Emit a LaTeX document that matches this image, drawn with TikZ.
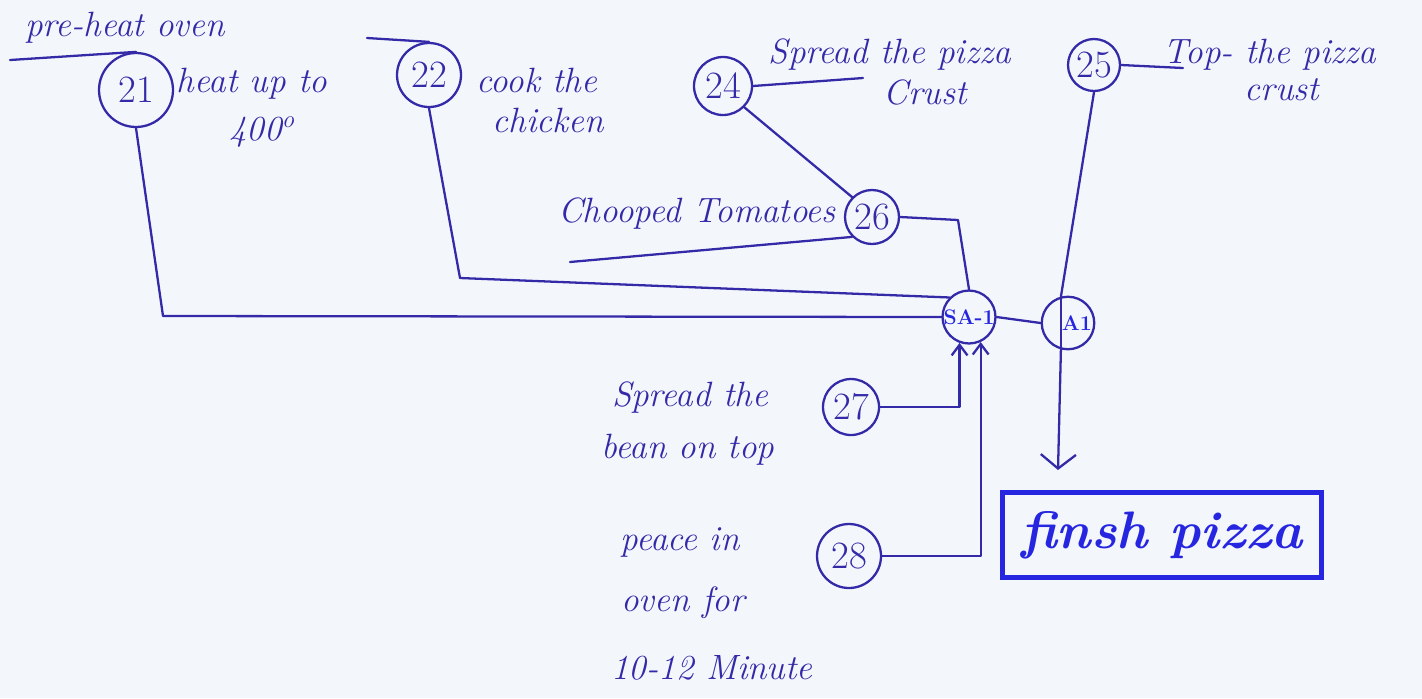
\documentclass[tikz,border=0pt]{standalone}
\usepackage{fontspec}
\usetikzlibrary{arrows.meta}
\definecolor{pen}{RGB}{52,42,168}
\definecolor{marker}{RGB}{38,38,225}
\definecolor{paper}{RGB}{243,247,252}
\begin{document}
\begin{tikzpicture}[x=0.02cm,y=-0.02cm,
  pen/.style={draw=pen, line width=1.3pt, line cap=round, line join=round},
  num/.style={circle, draw=pen, line width=1.3pt, inner sep=0pt, text=pen,
    font=\fontsize{22}{26}\selectfont},
  mk/.style={num, text=marker, font=\fontsize{12}{14}\selectfont\bfseries},
  lbl/.style={text=pen, font=\fontsize{20}{24}\selectfont\itshape, inner sep=1pt},
  arr/.style={pen, -{Straight Barb[length=6pt,width=9pt]}},
  bigarr/.style={pen, -{Straight Barb[length=8pt,width=20pt]}}]
\fill[paper] (0,0) rectangle (1422,698);
\useasboundingbox (0,0) rectangle (1422,698);

% numbered step circles
\node[num, minimum size=1.48cm] (n21) at (136,90) {21};
\node[num, minimum size=1.28cm] (n22) at (429,75) {22};
\node[num, minimum size=1.16cm] (n24) at (723,86) {24};
\node[num, minimum size=1.04cm] (n25) at (1094,65) {25};
\node[num, minimum size=1.08cm] (n26) at (872,217) {26};
\node[mk,  minimum size=0.98cm] (sa) at (969,317) {SA-1};
\node[mk,  minimum size=1.05cm] (a1) at (1068,323) {\hspace*{10pt}A1};
\node[num, minimum size=1.12cm] (n27) at (851,407) {27};
\node[num, minimum size=1.28cm] (n28) at (849,556) {28};

% final box
\node[draw=marker, line width=2.8pt, minimum width=6.38cm, minimum height=1.7cm,
  text=marker, font=\fontsize{30}{36}\selectfont\bfseries\itshape] (fin) at (1162,535) {finsh pizza};

% labels
\node[lbl] (t21a) at (125,28) {pre-heat oven};
\node[lbl] (t21b) at (252,84) {heat up to};
\node[lbl] (t21c) at (262,132) {400\textsuperscript{o}};
\node[lbl] (t22a) at (537,80) {cook the};
\node[lbl] (t22b) at (548,120) {chicken};
\node[lbl] (t24a) at (890,55) {Spread the pizza};
\node[lbl] (t24b) at (925,92) {Crust};
\node[lbl] (t25a) at (1270,55) {Top- the pizza};
\node[lbl] (t25b) at (1282,90) {crust};
\node[lbl] (t26) at (697,214) {Chooped Tomatoes};
\node[lbl] (t27a) at (690,398) {Spread the};
\node[lbl] (t27b) at (688,450) {bean on top};
\node[lbl] (t28a) at (680,542) {peace in};
\node[lbl] (t28b) at (683,603) {oven for};
\node[lbl] (t28c) at (712,668) {10-12 Minute};

% stub lines / underlines
\coordinate (u21) at (10,60);
\coordinate (u22) at (367,38);
\coordinate (u24) at (863,78);
\coordinate (u25) at (1183,68);
\coordinate (u26) at (570,262);
\draw[pen] (u21) -- (n21.north);
\draw[pen] (u22) -- (n22.north);
\draw[pen] (n24.east) -- (u24);
\draw[pen] (n25.east) -- (u25);
\draw[pen] (u26) -- (n26.225);

% connectors
\coordinate (b21) at (163,316);
\coordinate (b22) at (460,278);
\coordinate (b26) at (958,220);
\coordinate (tip) at (1058,470);
\draw[pen] (n21.south) -- (b21) -- (sa.west);
\draw[pen] (n22.south) -- (b22) -- (sa.north west);
\draw[pen] (n24.south east) -- (n26.north west);
\draw[pen] (n26.east) -- (b26) -- (sa.north);
\draw[pen] (sa.east) -- (a1.west);
\draw[pen] (n25.south) -- (a1.105);
\draw[pen] (a1.105) -- (a1.255);
\draw[bigarr] (a1.255) -- (tip);
\draw[arr] (n27.east) -| (sa.250);
\draw[arr] (n28.east) -| (sa.295);
\end{tikzpicture}
\end{document}
